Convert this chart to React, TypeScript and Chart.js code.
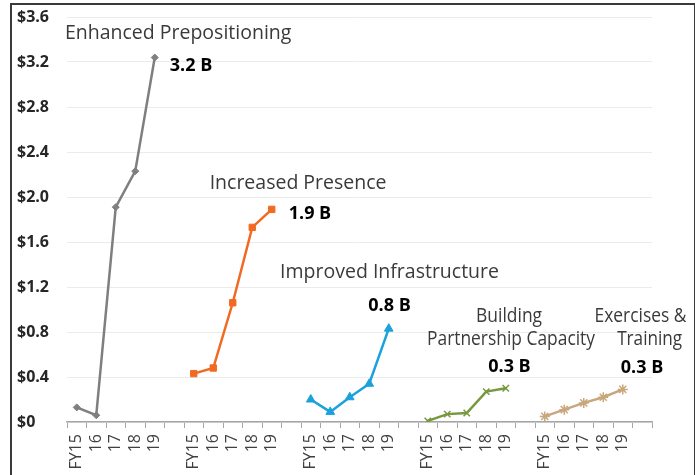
import React, { useEffect, useRef } from "react";
import { Chart, registerables } from "chart.js";

Chart.register(...registerables);

const years = ["FY15", "16", "17", "18", "19", ""];
const groupNames = [
  "Enhanced Prepositioning",
  "Increased Presence",
  "Improved Infrastructure",
  "Building Partnership Capacity",
  "Exercises & Training",
];
const prepositioning = [0.13, 0.06, 1.91, 2.23, 3.24];
const presence = [0.43, 0.48, 1.06, 1.73, 1.89];
const infrastructure = [0.2, 0.09, 0.22, 0.34, 0.83];
const partnership = [0.01, 0.07, 0.08, 0.27, 0.3];
const exercises = [0.05, 0.11, 0.17, 0.22, 0.29];
const totals = ["3.2 B", "1.9 B", "0.8 B", "0.3 B", "0.3 B"];
const yTicks = [0, 0.4, 0.8, 1.2, 1.6, 2.0, 2.4, 2.8, 3.2, 3.6];

const series = [prepositioning, presence, infrastructure, partnership, exercises];
const colors = ["#7f7f7f", "#f26a21", "#1ba1dc", "#77983c", "#c8a77c"];
const markers = ["rectRot", "rect", "triangle", "crossRot", "star"];
const radii = [3.5, 4.5, 5, 4.5, 5];

const FONT = "'Open Sans', 'Noto Sans', sans-serif";

// annotation placements in data coordinates (category index, value), max text width
const annotations = [
  { text: "Enhanced Prepositioning", x: 5.2, y: 3.45, bold: false, w: 227 },
  { text: totals[0], x: 5.86, y: 3.165, bold: true, w: 60 },
  { text: "Increased Presence", x: 11.35, y: 2.124, bold: false, w: 177 },
  { text: totals[1], x: 11.96, y: 1.849, bold: true, w: 60 },
  { text: "Improved Infrastructure", x: 16.04, y: 1.333, bold: false, w: 220 },
  { text: totals[2], x: 16.04, y: 1.031, bold: true, w: 60 },
  { text: "Building", x: 22.17, y: 0.942, bold: false, w: 66 },
  { text: "Partnership Capacity", x: 22.27, y: 0.738, bold: false, w: 168 },
  { text: totals[3], x: 22.19, y: 0.489, bold: true, w: 60 },
  { text: "Exercises &", x: 28.91, y: 0.942, bold: false, w: 92 },
  { text: "Training", x: 29.38, y: 0.738, bold: false, w: 65 },
  { text: totals[4], x: 28.99, y: 0.48, bold: true, w: 60 },
];

const labelPlugin = {
  id: "labelPlugin",
  afterDatasetsDraw(chart: any) {
    const { ctx, scales } = chart;
    ctx.save();
    ctx.textAlign = "center";
    ctx.textBaseline = "middle";
    for (const a of annotations) {
      ctx.font = a.bold ? `bold 18px ${FONT}` : `19.5px ${FONT}`;
      ctx.fillStyle = a.bold ? "#000000" : "#3a3a3a";
      ctx.fillText(a.text, scales.x.getPixelForValue(a.x), scales.y.getPixelForValue(a.y), a.w);
    }
    ctx.restore();
  },
};

export default function App() {
  const ref = useRef<HTMLCanvasElement>(null);
  useEffect(() => {
    const labels: string[] = [];
    for (let g = 0; g < series.length; g++) labels.push(...years);
    const datasets = series.map((vals, g) => {
      const data: (number | null)[] = labels.map(() => null);
      vals.forEach((v, i) => (data[g * years.length + i] = v));
      return {
        label: groupNames[g],
        data,
        borderColor: colors[g],
        backgroundColor: colors[g],
        borderWidth: 2.5,
        pointStyle: markers[g],
        pointRadius: radii[g],
        pointBorderWidth: g >= 3 ? 1.5 : 1,
        pointBorderColor: colors[g],
        pointBackgroundColor: colors[g],
        spanGaps: false,
        tension: 0,
      };
    });
    const chart = new Chart(ref.current!, {
      type: "line",
      data: { labels, datasets },
      options: {
        animation: false,
        responsive: false,
        layout: { padding: { left: 17, right: 43, top: 17, bottom: 0 } },
        plugins: { legend: { display: false }, tooltip: { enabled: false } },
        scales: {
          x: {
            offset: true,
            grid: {
              offset: true,
              drawOnChartArea: false,
              drawTicks: true,
              tickLength: 6,
              color: "#a6a6a6",
            },
            border: { display: true, color: "#a6a6a6", width: 1.5 },
            ticks: {
              autoSkip: false,
              maxRotation: 90,
              minRotation: 90,
              padding: 6,
              color: "#404040",
              font: { family: FONT, size: 16 },
            },
            afterFit: (s: any) => {
              s.height = 53;
            },
          },
          y: {
            min: 0,
            max: 3.6,
            afterBuildTicks: (s: any) => {
              s.ticks = yTicks.map((v) => ({ value: v }));
            },
            grid: { drawTicks: false, color: "#ebebeb", lineWidth: 1 },
            border: { display: false },
            ticks: {
              crossAlign: "far",
              padding: 0,
              color: "#262626",
              font: { family: FONT, size: 16, weight: "bold" },
              callback: (v: any) => "$" + (v === 0 ? "0" : Number(v).toFixed(1)),
            },
            afterFit: (s: any) => {
              s.width = 50;
            },
          },
        },
      },
      plugins: [labelPlugin],
    });
    return () => chart.destroy();
  }, []);
  return (
    <div style={{ position: "absolute", left: 0, top: 0, width: 695, height: 475, overflow: "hidden", background: "#fff" }}>
      <canvas ref={ref} width={695} height={475} style={{ position: "absolute", left: 0, top: 0 }} />
      <div
        style={{
          position: "absolute",
          left: 10,
          top: 3,
          width: 686,
          height: 480,
          boxSizing: "border-box",
          border: "2px solid #3a3a3a",
          pointerEvents: "none",
        }}
      />
    </div>
  );
}
